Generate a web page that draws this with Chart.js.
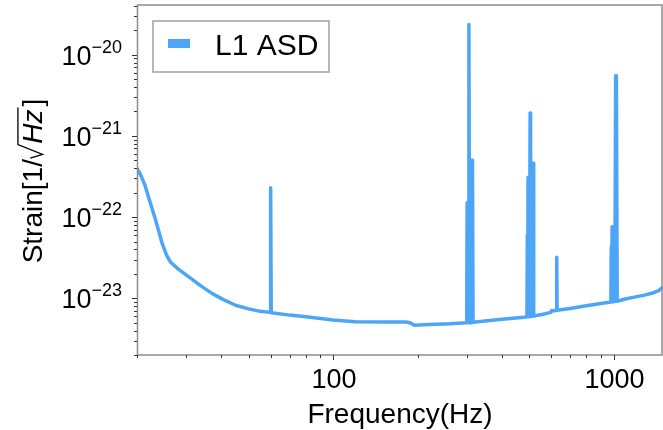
<!DOCTYPE html>
<html>
<head>
<meta charset="utf-8">
<script src="https://cdn.jsdelivr.net/npm/chart.js@4.4.1/dist/chart.umd.min.js"></script>
<style>
html, body { margin: 0; padding: 0; background: #fff; }
</style>
</head>
<body>
<canvas id="asd-chart" width="663" height="430"></canvas>
<script>
// L1 amplitude spectral density (Hz, strain/sqrt(Hz))
const freq = [
  20, 20.7, 21.4, 22.3, 23.3, 24.6, 25.5, 26.3, 28, 30.6, 33.5, 37.1, 40.5, 44.9, 50, 55,
  59.7, 59.9, 60.2, 70, 80, 100, 120, 150, 182, 188, 195, 220, 260,
  299.5, 300.5, 302, 303.5, 305, 306.5, 308, 309.5, 311, 312.5, 314, 315.5,
  400, 480, 491, 492.5, 494, 495.5, 497, 499, 501, 504, 506, 509, 511, 513, 515, 517, 519,
  560, 598, 602, 610, 625, 627, 629, 700, 800, 900,
  978, 981, 984, 988, 992, 1010, 1017, 1023, 1030,
  1100, 1200, 1300, 1387, 1443, 1500
];
const asd = [
  4.0e-22, 3.2e-22, 2.4e-22, 1.5e-22, 9.2e-23, 4.7e-23, 3.4e-23, 2.8e-23, 2.3e-23, 1.83e-23, 1.45e-23, 1.14e-23, 9.7e-24, 8.2e-24, 7.4e-24, 6.9e-24,
  6.7e-24, 2.3e-22, 6.65e-24, 6.2e-24, 5.9e-24, 5.4e-24, 5.15e-24, 5.1e-24, 5.1e-24, 5.0e-24, 4.65e-24, 4.75e-24, 4.85e-24,
  5.0e-24, 1.5e-22, 5.0e-24, 1.5e-22, 2.35e-20, 5.0e-24, 1.5e-22, 5.0e-24, 5.0e-22, 5.0e-24, 5.0e-22, 5.05e-24,
  5.5e-24, 5.85e-24, 5.9e-24, 6.0e-23, 5.9e-24, 3.1e-22, 5.9e-24, 3.1e-22, 5.9e-24, 1.92e-21, 5.95e-24, 4.6e-22, 6.0e-24, 4.6e-22, 6.0e-24, 4.6e-22, 6.05e-24,
  6.35e-24, 6.7e-24, 7.05e-24, 7.0e-24, 7.05e-24, 3.2e-23, 7.1e-24, 7.5e-24, 8.1e-24, 8.6e-24,
  9.0e-24, 4.3e-23, 9.0e-24, 7.6e-23, 9.05e-24, 9.1e-24, 5.5e-21, 5.5e-21, 9.2e-24,
  9.8e-24, 1.04e-23, 1.1e-23, 1.17e-23, 1.23e-23, 1.38e-23
];
const seriesLabel = 'L1 ASD';
const xMajor = [100, 1000];
const xMajorLabels = ['100', '1000'];
const xMinor = [20, 30, 40, 50, 60, 70, 80, 90, 200, 300, 400, 500, 600, 700, 800, 900];
const yMajor = [1e-23, 1e-22, 1e-21, 1e-20];
const yMajorExp = ['\u221223', '\u221222', '\u221221', '\u221220'];
const xTitle = 'Frequency(Hz)';

const lineColor = '#4da5f8';
const fontName = '"Liberation Sans", Arial, sans-serif';

// minor y ticks 2..9 x 10^n
const yMinor = [];
for (let e = -24; e <= -20; e++) {
  for (let m = 2; m <= 9; m++) yMinor.push(m * Math.pow(10, e));
}

const axesDecor = {
  id: 'axesDecor',
  afterDraw(chart) {
    const { ctx, chartArea: { top, bottom, left, right }, scales: { x, y } } = chart;
    ctx.save();

    // frame
    ctx.strokeStyle = '#8c8c8c';
    ctx.lineWidth = 1.5;
    ctx.strokeRect(left + 0.5, top, right - left - 1.5, bottom - top);

    // ticks
    ctx.strokeStyle = '#333';
    ctx.lineWidth = 1;
    ctx.beginPath();
    xMajor.forEach(v => { const p = Math.round(x.getPixelForValue(v)) + 0.5; ctx.moveTo(p, bottom); ctx.lineTo(p, bottom + 5); });
    xMinor.forEach(v => { const p = Math.round(x.getPixelForValue(v)) + 0.5; ctx.moveTo(p, bottom); ctx.lineTo(p, bottom + 3); });
    yMajor.forEach(v => { const p = Math.round(y.getPixelForValue(v)) + 0.5; ctx.moveTo(left, p); ctx.lineTo(left - 5, p); });
    yMinor.forEach(v => {
      const p = y.getPixelForValue(v);
      if (p < top || p > bottom) return;
      const q = Math.round(p) + 0.5; ctx.moveTo(left, q); ctx.lineTo(left - 3, q);
    });
    ctx.stroke();

    // x tick labels
    ctx.fillStyle = '#000';
    ctx.font = '27px ' + fontName;
    ctx.textAlign = 'center';
    ctx.textBaseline = 'alphabetic';
    xMajor.forEach((v, i) => ctx.fillText(xMajorLabels[i], x.getPixelForValue(v) + 1, bottom + 33));

    // x title
    ctx.font = '28px ' + fontName;
    ctx.fillText(xTitle, (left + right) / 2, bottom + 68);

    // y tick labels 10^n
    ctx.textAlign = 'left';
    yMajor.forEach((v, i) => {
      const p = y.getPixelForValue(v);
      ctx.font = '18px ' + fontName;
      const ew = ctx.measureText(yMajorExp[i]).width;
      ctx.font = '27px ' + fontName;
      const tw = ctx.measureText('10').width;
      const xe = left - 15 - ew;
      ctx.fillText('10', xe - tw, p + 10);
      ctx.font = '18px ' + fontName;
      ctx.fillText(yMajorExp[i], xe, p - 2);
    });

    // y title: Strain[1/sqrt(Hz)]
    const f = 28;
    ctx.save();
    ctx.translate(42, (top + bottom) / 2 + 1);
    ctx.rotate(-Math.PI / 2);
    ctx.font = f + 'px ' + fontName;
    const w1 = ctx.measureText('Strain[1/').width;
    const wB = ctx.measureText(']').width;
    ctx.font = 'italic ' + f + 'px ' + fontName;
    const wHz = ctx.measureText('Hz').width;
    const rad = 0.55 * f;
    const total = w1 + rad + wHz + 3 + wB;
    let x0 = -total / 2;
    ctx.font = f + 'px ' + fontName;
    ctx.fillText('Strain[1/', x0, 0);
    x0 += w1;
    ctx.strokeStyle = '#000';
    ctx.lineWidth = 1.3;
    ctx.beginPath();
    ctx.moveTo(x0 + 1, -0.42 * f);
    ctx.lineTo(x0 + 0.17 * f, 0.02 * f);
    ctx.lineTo(x0 + rad - 1, -0.86 * f);
    ctx.lineTo(x0 + rad + wHz + 2, -0.86 * f);
    ctx.stroke();
    x0 += rad;
    ctx.font = 'italic ' + f + 'px ' + fontName;
    ctx.fillText('Hz', x0, 0);
    x0 += wHz + 3;
    ctx.font = f + 'px ' + fontName;
    ctx.fillText(']', x0, 0);
    ctx.restore();

    // legend
    const lx = 153, ly = 21, lw = 176, lh = 51;
    ctx.fillStyle = '#fff';
    ctx.fillRect(lx, ly, lw, lh);
    ctx.strokeStyle = '#a0a0a0';
    ctx.lineWidth = 1.5;
    ctx.strokeRect(lx, ly, lw, lh);
    ctx.fillStyle = chart.data.datasets[0].borderColor;
    ctx.fillRect(lx + 15, ly + 18, 22, 9);
    ctx.fillStyle = '#000';
    ctx.font = '30px ' + fontName;
    ctx.textAlign = 'left';
    ctx.fillText(chart.data.datasets[0].label, lx + 62, ly + 34);

    ctx.restore();
  }
};

new Chart(document.getElementById('asd-chart'), {
  type: 'line',
  data: {
    datasets: [{
      label: seriesLabel,
      data: freq.map((f, i) => ({ x: f, y: asd[i] })),
      borderColor: lineColor,
      backgroundColor: lineColor,
      borderWidth: 3.5,
      borderJoinStyle: 'round',
      pointRadius: 0,
      fill: false,
      tension: 0
    }]
  },
  options: {
    responsive: false,
    animation: false,
    devicePixelRatio: 1,
    layout: { padding: { top: 5, right: 0, left: 0, bottom: 0 } },
    plugins: { legend: { display: false }, tooltip: { enabled: false } },
    scales: {
      x: {
        type: 'logarithmic',
        min: 20,
        max: 1500,
        grid: { display: false },
        border: { display: false },
        ticks: { display: false },
        afterFit(s) { s.height = 75; }
      },
      y: {
        type: 'logarithmic',
        min: 2e-24,
        max: 4.1e-20,
        grid: { display: false },
        border: { display: false },
        ticks: { display: false },
        afterFit(s) { s.width = 137; }
      }
    }
  },
  plugins: [axesDecor]
});
</script>
</body>
</html>
